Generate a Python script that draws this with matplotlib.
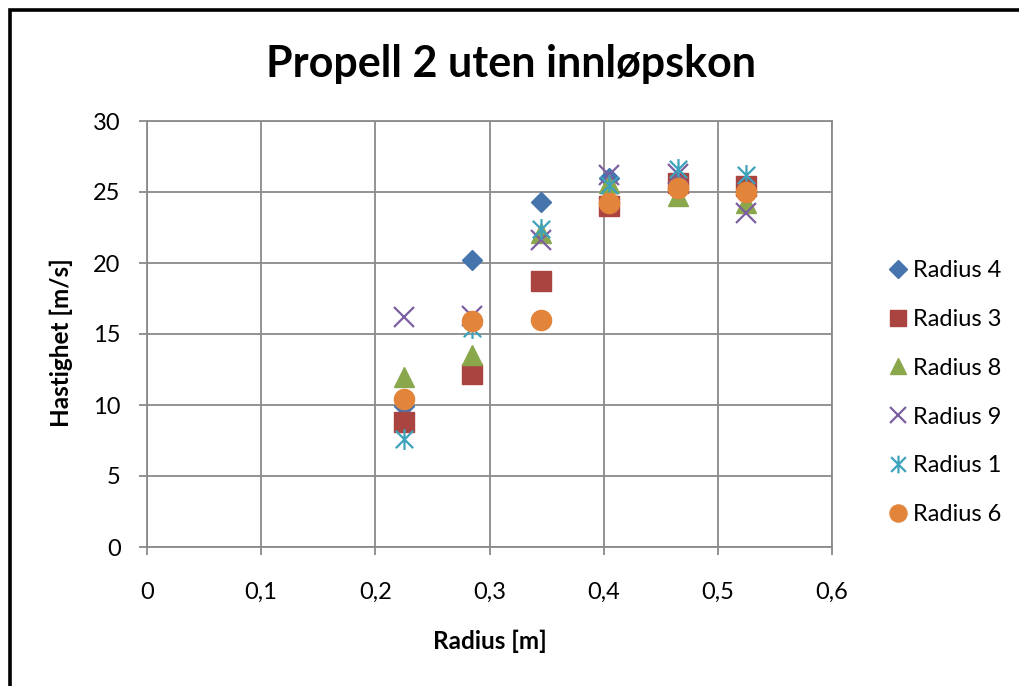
import matplotlib
matplotlib.use("Agg")
import matplotlib.pyplot as plt
from matplotlib.path import Path
from matplotlib.patches import Rectangle

plt.rcParams['font.family'] = ['Lato', 'DejaVu Sans']

radius = [0.225, 0.285, 0.345, 0.405, 0.465, 0.525]

series_names = ["Radius 4", "Radius 3", "Radius 8", "Radius 9", "Radius 1", "Radius 6"]
radius_4 = [9.9, 20.2, 24.3, 26.0, 25.7, 25.2]
radius_3 = [8.8, 12.2, 18.7, 24.0, 25.6, 25.4]
radius_8 = [12.0, 13.5, 22.1, 25.6, 24.7, 24.2]
radius_9 = [16.2, 16.3, 21.6, 26.2, 26.3, 23.5]
radius_1 = [7.6, 15.4, 22.4, 25.5, 26.6, 26.2]
radius_6 = [10.4, 15.9, 16.0, 24.2, 25.3, 25.0]

x_ticks = [0, 0.1, 0.2, 0.3, 0.4, 0.5, 0.6]
x_tick_labels = ["0", "0,1", "0,2", "0,3", "0,4", "0,5", "0,6"]
y_ticks = [0, 5, 10, 15, 20, 25, 30]

# excel style asterisk: X plus vertical bar
star = Path([(-0.5, -0.5), (0.5, 0.5), (-0.5, 0.5), (0.5, -0.5), (0, -0.6), (0, 0.6)],
            [Path.MOVETO, Path.LINETO] * 3)

fig = plt.figure(figsize=(10.19, 6.86), dpi=100)
ax = fig.add_axes([147 / 1019, 1 - 547 / 686, 685 / 1019, 426 / 686])

ax.plot(radius, radius_4, ls='none', marker='D', ms=10.5, color='#4674AD', mec='#4674AD', label=series_names[0])
ax.plot(radius, radius_3, ls='none', marker='s', ms=14, color='#AA4441', mec='#AA4441', label=series_names[1])
ax.plot(radius, radius_8, ls='none', marker='^', ms=14, color='#8BA74C', mec='#8BA74C', label=series_names[2])
ax.plot(radius, radius_9, ls='none', marker='x', ms=14, mew=1.6, color='#7C5FA0', label=series_names[3])
ax.plot(radius, radius_1, ls='none', marker=star, ms=15, mew=1.6, color='#3DA2BC', fillstyle='none', label=series_names[4])
ax.plot(radius, radius_6, ls='none', marker='o', ms=14.5, color='#E2843A', mec='#E2843A', label=series_names[5])

ax.set_xlim(0, 0.6)
ax.set_ylim(0, 30)
ax.set_xticks(x_ticks)
ax.set_xticklabels(x_tick_labels)
ax.set_yticks(y_ticks)
ax.grid(True, color='#8a8a8a', linewidth=1.3)
ax.set_axisbelow(True)
for s in ax.spines.values():
    s.set_color('#8a8a8a')
    s.set_linewidth(1.3)
ax.tick_params(direction='out', length=6, width=1.3, color='#8a8a8a', labelsize=17, pad=13)
ax.tick_params(axis='x', pad=19)

ax.set_xlabel("Radius [m]", fontsize=17.5, fontweight='bold')
ax.xaxis.set_label_coords(0.5, (547 - 630) / 426)
ax.set_ylabel("Hastighet [m/s]", fontsize=17.5, fontweight='bold')
ax.yaxis.set_label_coords((73 - 147) / 685, 0.48)
fig.text(511 / 1019, 1 - 77 / 686, "Propell 2 uten innløpskon", fontsize=31, fontweight='bold',
         ha='center', va='baseline')

ax.legend(loc='upper left', bbox_to_anchor=(887 / 1019, 1 - 260 / 686), bbox_transform=fig.transFigure,
          frameon=False, fontsize=17, handletextpad=0.2, labelspacing=1.18, handlelength=0.9,
          borderaxespad=0, borderpad=0, markerscale=0.85)

fig.patches.append(Rectangle((9.5 / 1019, -0.1), 2, 1.1 - 9.5 / 686, transform=fig.transFigure,
                             fill=False, edgecolor='black', linewidth=2.6))

fig.savefig("out.png", dpi=100)
